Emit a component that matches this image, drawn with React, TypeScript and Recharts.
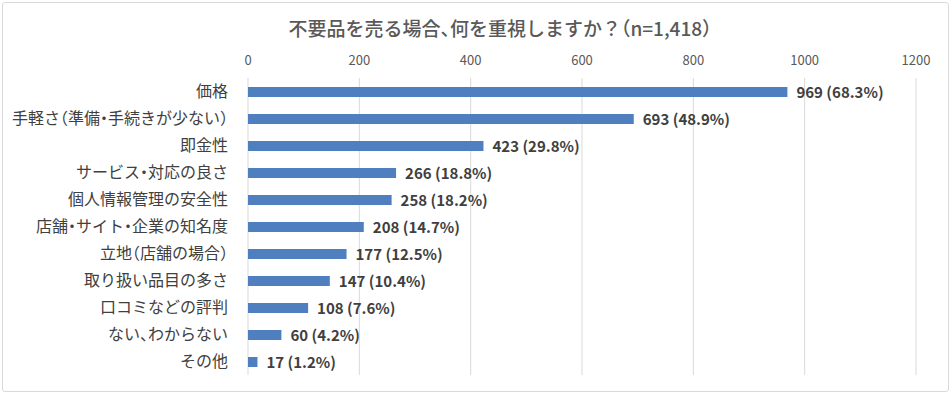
import { BarChart, Bar, XAxis, YAxis, CartesianGrid, LabelList } from 'recharts'

const categories = [
  '価格',
  '手軽さ（準備・手続きが少ない）',
  '即金性',
  'サービス・対応の良さ',
  '個人情報管理の安全性',
  '店舗・サイト・企業の知名度',
  '立地（店舗の場合）',
  '取り扱い品目の多さ',
  '口コミなどの評判',
  'ない、わからない',
  'その他',
]
const counts = [969, 693, 423, 266, 258, 208, 177, 147, 108, 60, 17]
const percents = [68.3, 48.9, 29.8, 18.8, 18.2, 14.7, 12.5, 10.4, 7.6, 4.2, 1.2]
const xTicks = [0, 200, 400, 600, 800, 1000, 1200]

const data = categories.map((name, i) => ({ name, count: counts[i], pct: percents[i] }))

const FONT = '"Noto Sans CJK JP", "Noto Sans", sans-serif'
const BAR = '#4F7FBE'

const CategoryTick = ({ x, y, payload }: any) => (
  <text
    x={x - 12}
    y={y}
    dy={5.5}
    textAnchor="end"
    fontSize={16}
    fill="#404040"
    fontFamily={FONT}
    style={{ fontFeatureSettings: '"halt"' }}
  >
    {payload.value}
  </text>
)

const ValueLabel = ({ x, y, width, height, index }: any) => (
  <text
    x={x + width + 9}
    y={y + height / 2}
    dy={5.5}
    fontSize={15}
    fontWeight="bold"
    fill="#404040"
    fontFamily={FONT}
  >
    {`${counts[index]} (${percents[index].toFixed(1)}%)`}
  </text>
)

export default function App() {
  return (
    <div
      style={{
        position: 'absolute',
        left: 0,
        top: 0,
        width: 952,
        height: 395,
        background: '#fff',
        fontFamily: FONT,
      }}
    >
      <div
        style={{
          position: 'absolute',
          left: 2,
          top: 2,
          width: 945,
          height: 388,
          border: '1px solid #d9d9d9',
          borderRadius: 3,
        }}
      />
      <div
        style={{
          position: 'absolute',
          left: 24,
          top: 14,
          width: 952,
          textAlign: 'center',
          fontSize: 19,
          fontWeight: 500,
          color: '#595959',
          fontFeatureSettings: '"halt"',
        }}
      >
        不要品を売る場合、何を重視しますか？（n=1,418）
      </div>
      <BarChart
        width={952}
        height={395}
        data={data}
        layout="vertical"
        margin={{ top: 48, right: 36, left: 0, bottom: 20 }}
        barSize={10}
        style={{ position: 'absolute', left: 0, top: 0 }}
      >
        <CartesianGrid horizontal={false} stroke="#d9d9d9" />
        <XAxis
          type="number"
          orientation="top"
          domain={[0, 1200]}
          ticks={xTicks}
          axisLine={false}
          tickLine={false}
          height={30}
          tickMargin={7}
          tick={{ fontSize: 13, fill: '#595959', fontFamily: FONT }}
        />
        <YAxis
          type="category"
          dataKey="name"
          width={248}
          axisLine={false}
          tickLine={false}
          interval={0}
          tick={<CategoryTick />}
        />
        <Bar dataKey="count" fill={BAR} isAnimationActive={false}>
          <LabelList dataKey="count" content={<ValueLabel />} />
        </Bar>
      </BarChart>
    </div>
  )
}
